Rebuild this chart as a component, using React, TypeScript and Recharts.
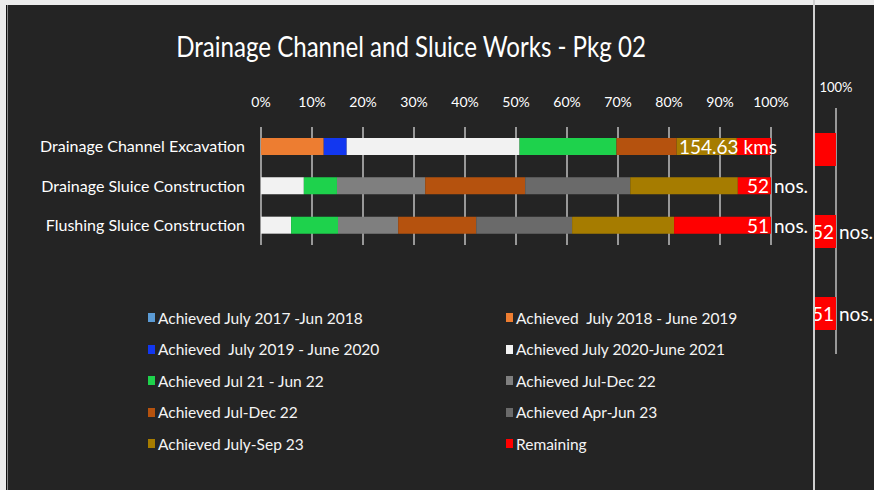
import { BarChart, Bar, XAxis, YAxis, CartesianGrid, Legend, LabelList } from "recharts";

const FONT = "Lato, 'Open Sans', sans-serif";

const CATEGORIES = [
  "Drainage Channel Excavation",
  "Drainage Sluice Construction",
  "Flushing Sluice Construction",
];

const SERIES_NAMES = [
  "Achieved July 2017 -Jun 2018",
  "Achieved  July 2018 - June 2019",
  "Achieved  July 2019 - June 2020",
  "Achieved July 2020-June 2021",
  "Achieved Jul 21 - Jun 22",
  "Achieved Jul-Dec 22",
  "Achieved Jul-Dec 22",
  "Achieved Apr-Jun 23",
  "Achieved July-Sep 23",
  "Remaining",
];

const SERIES_COLORS = [
  "#5B9BD5", "#ED7D31", "#1237F0", "#F2F2F2", "#1ED24C",
  "#7F7F7F", "#B5520E", "#6A6A6A", "#A67C00", "#FF0000",
];

// percent of total work, one value per category
const JUL17_JUN18 = [0, 0, 0];
const JUL18_JUN19 = [12.3, 0, 0];
const JUL19_JUN20 = [4.5, 0, 0];
const JUL20_JUN21 = [33.9, 8.4, 5.9];
const JUL21_JUN22 = [19.0, 6.5, 9.2];
const JUL_DEC22_A = [0, 17.3, 11.8];
const JUL_DEC22_B = [11.8, 19.6, 15.3];
const APR_JUN23 = [0, 20.6, 18.8];
const JUL_SEP23 = [11.8, 21.1, 20.0];
const REMAINING = [6.7, 6.5, 19.0];

const SERIES_VALUES = [
  JUL17_JUN18, JUL18_JUN19, JUL19_JUN20, JUL20_JUN21, JUL21_JUN22,
  JUL_DEC22_A, JUL_DEC22_B, APR_JUN23, JUL_SEP23, REMAINING,
];

const LABEL_NUMBERS = ["154.63", "52", "51"];
const LABEL_UNITS = ["kms", "nos.", "nos."];

const TICKS = [0, 10, 20, 30, 40, 50, 60, 70, 80, 90, 100];

const rows = CATEGORIES.map((name, i) => {
  const row: Record<string, string | number> = { name };
  SERIES_VALUES.forEach((vals, s) => {
    row[`s${s}`] = vals[i];
  });
  return row;
});

function makeRemainingLabel(hideFirst: boolean) {
  return (props: any) => {
    const { x, y, width, height, index } = props;
    if (hideFirst && index === 0) return null;
    const end = Number(x) + Number(width);
    const cy = Number(y) + Number(height) / 2;
    const style = { fill: "#ffffff", fontSize: 19, fontFamily: FONT };
    if (index === 0) {
      return (
        <text x={end + 6} y={cy} textAnchor="end" dominantBaseline="central" style={style}>
          {LABEL_NUMBERS[index]} {LABEL_UNITS[index]}
        </text>
      );
    }
    return (
      <g>
        <text x={end - 2} y={cy} textAnchor="end" dominantBaseline="central" style={style}>
          {LABEL_NUMBERS[index]}
        </text>
        <text x={end + 3} y={cy} textAnchor="start" dominantBaseline="central" style={style}>
          {LABEL_UNITS[index]}
        </text>
      </g>
    );
  };
}

function LegendGrid({ payload }: any) {
  const items = [...(payload ?? [])].sort(
    (a: any, b: any) => Number(String(a.dataKey).slice(1)) - Number(String(b.dataKey).slice(1))
  );
  return (
    <div style={{ display: "grid", gridTemplateColumns: "358px 358px" }}>
      {items.map((item: any, i: number) => (
        <div
          key={i}
          style={{
            height: 31.5,
            display: "flex",
            alignItems: "center",
            color: "#f4f4f4",
            fontFamily: FONT,
            fontSize: 15.5,
            whiteSpace: "pre",
          }}
        >
          <span style={{ width: 7, height: 9, background: item.color, marginRight: 3, display: "inline-block" }} />
          {item.value}
        </div>
      ))}
    </div>
  );
}

function bars(hideFirst: boolean) {
  return SERIES_NAMES.map((name, s) => (
    <Bar
      key={s}
      dataKey={`s${s}`}
      name={name}
      stackId="a"
      fill={SERIES_COLORS[s]}
      barSize={hideFirst ? 33 : 17}
      isAnimationActive={false}
    >
      {s === SERIES_NAMES.length - 1 && (
        <LabelList dataKey={`s${s}`} content={makeRemainingLabel(hideFirst)} />
      )}
    </Bar>
  ));
}

export default function App() {
  return (
    <div
      style={{
        position: "fixed",
        left: 0,
        top: 0,
        width: 874,
        height: 490,
        background: "#ececec",
        overflow: "hidden",
      }}
    >
      <div
        style={{
          position: "absolute",
          left: 6,
          top: 5,
          width: 807,
          height: 485,
          background: "#242424",
          borderLeft: "1px solid #111",
          boxShadow: "inset 1px 0 0 #8a8a8a",
        }}
      />
      <div style={{ position: "absolute", left: 813, top: 0, width: 2, height: 490, background: "#cfcfcf" }} />
      <div
        style={{
          position: "absolute",
          left: 815,
          top: 5,
          width: 59,
          height: 485,
          background: "#242424",
          overflow: "hidden",
        }}
      >
        <div style={{ position: "absolute", left: -19, top: -5 }}>
          <BarChart
            width={78}
            height={360}
            data={rows}
            layout="vertical"
            margin={{ top: 78, right: 38, bottom: 6, left: 0 }}
            style={{ overflow: "visible" }}
          >
            <CartesianGrid horizontal={false} stroke="#bfbfbf" strokeWidth={1.5} />
            <XAxis
              type="number"
              orientation="top"
              domain={[96, 100]}
              allowDataOverflow
              ticks={[100]}
              tickFormatter={(v: number) => `${v}%`}
              tick={{ fill: "#ffffff", fontSize: 13, fontFamily: FONT }}
              axisLine={false}
              tickLine={false}
              tickSize={0}
              tickMargin={16}
            />
            <YAxis type="category" dataKey="name" hide />
            {bars(true)}
          </BarChart>
        </div>
      </div>

      <div
        style={{
          position: "absolute",
          left: 0,
          top: 28,
          width: 822,
          height: 36,
          lineHeight: "36px",
          textAlign: "center",
          color: "#ffffff",
          fontFamily: FONT,
          fontSize: 28,
          transform: "scaleX(0.86)",
          transformOrigin: "411px 50%",
        }}
      >
        Drainage Channel and Sluice Works - Pkg 02
      </div>

      <div style={{ position: "absolute", left: 0, top: 0 }}>
        <BarChart
          width={815}
          height={480}
          data={rows}
          layout="vertical"
          margin={{ top: 97, right: 44, bottom: 235, left: 0 }}
          style={{ overflow: "visible" }}
        >
          <CartesianGrid horizontal={false} stroke="#bfbfbf" strokeWidth={1.5} />
          <XAxis
            type="number"
            orientation="top"
            domain={[0, 100]}
            ticks={TICKS}
            tickFormatter={(v: number) => `${v}%`}
            tick={{ fill: "#ffffff", fontSize: 14, fontFamily: FONT }}
            axisLine={false}
            tickLine={false}
            tickSize={0}
            tickMargin={20}
          />
          <YAxis
            type="category"
            dataKey="name"
            width={261}
            tick={{ fill: "#ffffff", fontSize: 16, fontFamily: FONT }}
            axisLine={false}
            tickLine={false}
            tickSize={0}
            tickMargin={16}
          />
          <Legend
            layout="horizontal"
            verticalAlign="middle"
            content={<LegendGrid />}
            wrapperStyle={{ top: 302, left: 148, width: 716, height: 160, bottom: "auto" }}
          />
          {bars(false)}
        </BarChart>
      </div>
    </div>
  );
}
